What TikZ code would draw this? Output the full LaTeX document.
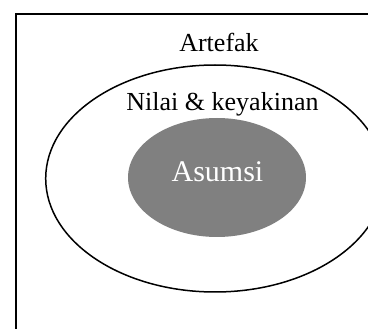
\documentclass[tikz,border=0pt]{standalone}
\usepackage{fontspec}
\setmainfont{Liberation Serif}
\usetikzlibrary{shapes.geometric}
\tikzset{
  frame/.style={draw=black, line width=1.8pt},
  ring/.style={ellipse, draw=black, line width=1.5pt, inner sep=0pt},
  core/.style={ellipse, fill=gray50, draw=none, inner sep=0pt},
  lbl/.style={anchor=base, inner sep=0pt, font=\fontsize{26}{30}\selectfont}
}
\definecolor{gray50}{HTML}{808080}
\begin{document}
\begin{tikzpicture}[x=1pt,y=-1pt]
\useasboundingbox (0,0) rectangle (368,329);
\clip (0,0) rectangle (368,329);
\fill[white] (0,0) rectangle (368,329);
\draw[frame] (16,14) rectangle (420,380);
\node[ring, minimum width=338.6pt, minimum height=227pt] (outer) at (215,178.5) {};
\node[core, minimum width=178pt, minimum height=119pt] (inner) at (217,177.5) {};
\node[lbl] (artefak) at (219,52) {Artefak};
\node[lbl] (nilai) at (222.5,111) {Nilai \& keyakinan};
\node[lbl, text=white, font=\fontsize{30}{34}\selectfont] (asumsi) at (217.5,182) {Asumsi};
\end{tikzpicture}
\end{document}
